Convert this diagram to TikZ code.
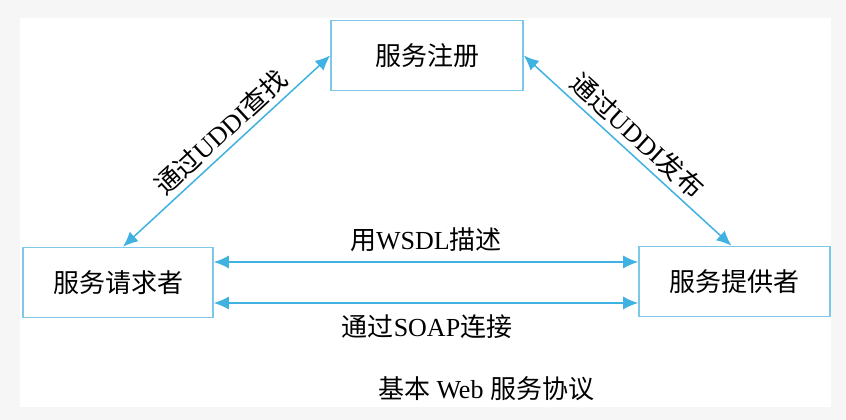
\documentclass[tikz,border=0pt]{standalone}
\usepackage{fontspec}
\setmainfont{Liberation Serif}
\newfontfamily\cjk{Noto Sans CJK SC}
\newcommand{\zh}[1]{{\cjk #1}}
\usetikzlibrary{arrows.meta}
\definecolor{linkblue}{HTML}{3FB2E2}
\definecolor{boxblue}{HTML}{7CC8E6}
\definecolor{pagegrey}{HTML}{F6F6F6}

\begin{document}
\begin{tikzpicture}[x=1pt,y=-1pt]
\tikzstyle{party}=[draw=boxblue,line width=1.6pt,fill=white,minimum height=70pt,font=\fontsize{26}{30}\selectfont]
\tikzstyle{link}=[draw=linkblue,line width=1.5pt,{Latex[length=15pt,width=13pt]}-{Latex[length=15pt,width=13pt]}]
\tikzstyle{tag}=[font=\fontsize{26}{30}\selectfont,inner sep=2pt]
\useasboundingbox (0,0) rectangle (846,420);
\fill[pagegrey] (0,0) rectangle (846,420);
\fill[white] (20,18) rectangle (831,407);
\node[party,minimum width=192pt] (reg) at (427,55.5) {\zh{服务注册}};
\node[party,minimum width=190pt] (req) at (118,282.5) {\zh{服务请求者}};
\node[party,minimum width=191pt] (prov) at (734.5,281.5) {\zh{服务提供者}};
\draw[link] ([xshift=5pt]req.north) -- (reg.west)
node[tag,pos=0.53,sloped,above=3pt] (find) {\zh{通过}UDDI\zh{查找}};
\draw[link] (reg.east) -- ([xshift=-3pt]prov.north)
node[tag,pos=0.49,sloped,above=3pt] (pub) {\zh{通过}UDDI\zh{发布}};
\draw[link] ([yshift=20.5pt]req.east) -- ([yshift=20.5pt]req.east -| prov.west);
\draw[link] ([yshift=-20.5pt]req.east) -- ([yshift=-20.5pt]req.east -| prov.west);
\node[tag] (wsdl) at (426,240) {\zh{用}WSDL\zh{描述}};
\node[tag] (soap) at (427,327) {\zh{通过}SOAP\zh{连接}};
\node[tag] (title) at (486,389) {\zh{基本} Web \zh{服务协议}};
\end{tikzpicture}
\end{document}
